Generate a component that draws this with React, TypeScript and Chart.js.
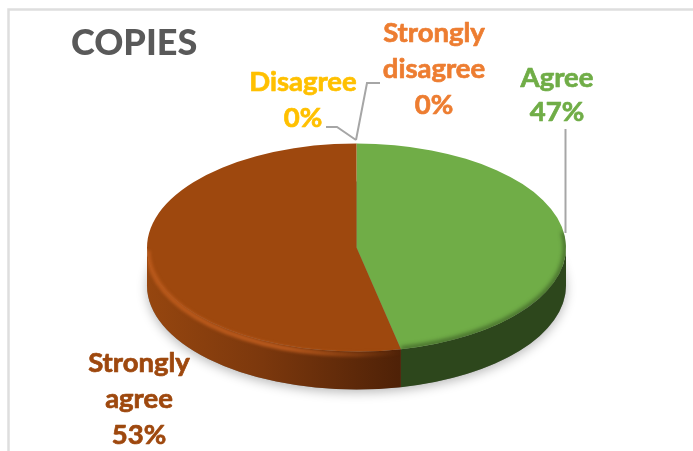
import React, { useEffect, useRef } from "react";
import { Chart, registerables } from "chart.js";

Chart.register(...registerables);

const chartTitle = "COPIES";
const categories = ["Strongly disagree", "Disagree", "Agree", "Strongly agree"];
const values = [0, 0, 46.6, 53.4];
const sliceColors = ["#ED7D31", "#FFC000", "#70AD47", "#9E480E"];
const labelColors = ["#ED7D31", "#FFC000", "#70AD47", "#9E480E"];
const labelWraps = [["Strongly", "disagree"], ["Disagree"], ["Agree"], ["Strongly", "agree"]];

const FONT = "Lato, Carlito, Calibri, sans-serif";
const PIE = { cx: 356.5, cy: 247.5, rx: 209.5, ry: 104, depth: 38 };
const LABEL_POS = [
  { x: 434, y: 33, lh: 36 },
  { x: 303, y: 82, lh: 36 },
  { x: 557, y: 78, lh: 34 },
  { x: 139, y: 363, lh: 36 },
];
const LEADERS = [
  [[380, 83], [367, 83], [356, 140]],
  [[326, 127], [337, 127], [356, 140]],
  [[565.5, 129], [565.5, 233]],
];

const pie3d = {
  id: "pie3d",
  beforeDraw(chart: any) {
    const { ctx, width, height } = chart;
    ctx.save();
    ctx.fillStyle = "#fff";
    ctx.fillRect(0, 0, width, height);
    ctx.strokeStyle = "#DEDEDE";
    ctx.lineWidth = 2.5;
    ctx.beginPath();
    ctx.moveTo(8.5, height);
    ctx.lineTo(8.5, 9.5);
    ctx.lineTo(width, 9.5);
    ctx.stroke();
    ctx.restore();
  },
  beforeDatasetsDraw(chart: any) {
    const { ctx } = chart;
    const { cx, cy, rx, ry, depth } = PIE;
    const arcs = chart.getDatasetMeta(0).data;

    ctx.save();
    ctx.shadowColor = "rgba(0,0,0,0.28)";
    ctx.shadowBlur = 11;
    ctx.shadowOffsetY = 3;
    ctx.fillStyle = "#888";
    ctx.beginPath();
    ctx.ellipse(cx, cy + depth, rx, ry, 0, 0, Math.PI * 2);
    ctx.fill();
    ctx.restore();

    arcs.forEach((arc: any, i: number) => {
      if (!values[i]) return;
      const a = Math.max(arc.startAngle, 0);
      const b = Math.min(arc.endAngle, Math.PI);
      if (b <= a) return;
      const grad = ctx.createLinearGradient(cx - rx, 0, cx + 45, 0);
      grad.addColorStop(0, "#96460F");
      grad.addColorStop(0.45, "#7C380D");
      grad.addColorStop(1, "#4E2107");
      ctx.fillStyle = i === 3 ? grad : "#2D471C";
      ctx.beginPath();
      ctx.ellipse(cx, cy, rx, ry, 0, a, b);
      ctx.ellipse(cx, cy + depth, rx, ry, 0, b, a, true);
      ctx.closePath();
      ctx.fill();
    });

    const r = arcs[2].outerRadius;
    ctx.save();
    ctx.translate(cx, cy);
    ctx.scale(rx / r, ry / r);
    ctx.translate(-arcs[2].x, -arcs[2].y);
  },
  afterDatasetsDraw(chart: any) {
    const { ctx } = chart;
    ctx.restore();
    const { cx, cy, rx, ry } = PIE;
    const arcs = chart.getDatasetMeta(0).data;

    ctx.save();
    ctx.lineCap = "butt";
    const brown = arcs[3];
    const lipGrad = ctx.createLinearGradient(cx - rx, 0, cx + 45, 0);
    lipGrad.addColorStop(0, "rgba(184,88,26,1)");
    lipGrad.addColorStop(0.55, "rgba(190,92,30,0.9)");
    lipGrad.addColorStop(1, "rgba(190,92,26,0)");
    ctx.save();
    ctx.beginPath();
    ctx.rect(cx - rx + 0.5, cy, rx + 45, 160);
    ctx.clip();
    ctx.strokeStyle = lipGrad;
    ctx.lineWidth = 5;
    ctx.filter = "blur(1.5px)";
    ctx.beginPath();
    ctx.ellipse(cx, cy + 3, rx - 1, ry, 0, brown.startAngle, Math.PI);
    ctx.stroke();
    ctx.restore();

    const green = arcs[2];
    ctx.strokeStyle = "rgba(45,71,28,0.7)";
    ctx.lineWidth = 4;
    ctx.filter = "blur(2px)";
    ctx.save();
    ctx.beginPath();
    ctx.ellipse(cx, cy, rx, ry, 0, -0.3, green.endAngle);
    ctx.lineTo(cx, cy);
    ctx.closePath();
    ctx.clip();
    ctx.beginPath();
    ctx.ellipse(cx, cy, rx - 0.5, ry - 0.5, 0, -0.15, green.endAngle);
    ctx.stroke();
    ctx.restore();
    ctx.restore();
  },
  afterDraw(chart: any) {
    const { ctx } = chart;
    ctx.save();
    ctx.strokeStyle = "#A6A6A6";
    ctx.lineWidth = 2;
    LEADERS.forEach((pts) => {
      ctx.beginPath();
      pts.forEach(([x, y], k) => (k ? ctx.lineTo(x, y) : ctx.moveTo(x, y)));
      ctx.stroke();
    });
    ctx.font = `bold 27.5px ${FONT}`;
    ctx.textAlign = "center";
    ctx.textBaseline = "middle";
    ctx.lineWidth = 0.7;
    ctx.lineJoin = "round";
    categories.forEach((_, i) => {
      const lines = [...labelWraps[i], `${Math.round(values[i])}%`];
      const pos = LABEL_POS[i];
      ctx.fillStyle = labelColors[i];
      ctx.strokeStyle = labelColors[i];
      lines.forEach((line, k) => {
        ctx.fillText(line, pos.x, pos.y + k * pos.lh);
        ctx.strokeText(line, pos.x, pos.y + k * pos.lh);
      });
    });
    ctx.restore();
  },
};

export default function App() {
  const ref = useRef<HTMLCanvasElement>(null);
  useEffect(() => {
    document.body.style.margin = "0";
    const chart = new Chart(ref.current as HTMLCanvasElement, {
      type: "pie",
      data: {
        labels: categories,
        datasets: [{ data: values, backgroundColor: sliceColors, borderWidth: 0, hoverOffset: 0 }],
      },
      options: {
        animation: false,
        responsive: false,
        layout: { padding: { left: 71, top: 0, right: 0, bottom: 10 } },
        plugins: {
          legend: { display: false },
          tooltip: { enabled: false },
          title: {
            display: true,
            text: chartTitle,
            align: "start",
            color: "#595959",
            font: { family: FONT, size: 36, weight: 900 },
            padding: { top: 22, bottom: 4 },
          },
        },
      },
      plugins: [pie3d],
    } as any);
    return () => chart.destroy();
  }, []);
  return <canvas ref={ref} width={693} height={451} style={{ display: "block" }} />;
}
